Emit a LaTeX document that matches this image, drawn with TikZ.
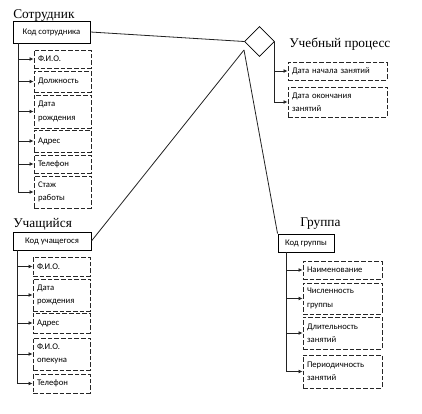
\documentclass[tikz,border=0pt]{standalone}
\usepackage{fontspec}
\setmainfont{Liberation Serif}
\newfontfamily\boxfont{Carlito}
\usetikzlibrary{positioning,shapes.geometric,arrows.meta}
\definecolor{linecol}{HTML}{222222}
\tikzset{
  keybox/.style  = {draw=black, line width=0.7pt, font=\boxfont\fontsize{6.5}{8}\selectfont,
                    inner sep=1pt, align=center},
  attrbox/.style = {draw=black!85, line width=0.7pt, dash pattern=on 3.5pt off 1.5pt,
                    font=\boxfont\fontsize{6.5}{10}\selectfont, align=left,
                    inner xsep=3pt, inner ysep=1pt},
  relbox/.style  = {draw=black, line width=0.5pt, diamond, inner sep=0pt,
                    minimum width=22.5pt, minimum height=22.5pt},
  flow/.style    = {-{Latex[length=3pt,width=3pt]}, draw=linecol, line width=0.6pt},
  link/.style    = {draw=linecol, line width=0.6pt},
  ttl/.style     = {font=\fontsize{10}{12}\selectfont, anchor=base west, inner sep=0pt},
}
\begin{document}
\begin{tikzpicture}[x=0.75pt, y=-0.75pt]
    \useasboundingbox (0,0) rectangle (422,414);

    % ---------------- employee
    \node[ttl] (ts) at (13,18) {Сотрудник};
    \node[keybox, minimum width=57.75pt, minimum height=16.5pt] (ks) at (51.5,32) {Код сотрудника};
    \node[attrbox, text width=36.75pt, minimum height=13.5pt]  (s1) at (62.5,59)    {Ф.И.О.};
    \node[attrbox, text width=36.75pt, minimum height=15.75pt] (s2) at (62.5,81.5)  {Должность};
    \node[attrbox, text width=36.75pt, minimum height=24.75pt] (s3) at (62.5,111.5) {Дата\\рождения};
    \node[attrbox, text width=36.75pt, minimum height=16.5pt]  (s4) at (62.5,141)   {Адрес};
    \node[attrbox, text width=36.75pt, minimum height=13.5pt]  (s5) at (62.5,164)   {Телефон};
    \node[attrbox, text width=36.75pt, minimum height=24pt]    (s6) at (62.5,192)   {Стаж\\работы};
    \foreach \b in {s1,s2,s3,s4,s5,s6} {\draw[flow] ([xshift=4.5pt]ks.south west) |- (\b.west);}

    % ---------------- study process
    \node[relbox] (dm) at (259.5,41.5) {};
    \coordinate (dj) at (244,50);
    \node[ttl] (tp) at (289,47) {Учебный процесс};
    \node[attrbox, text width=68.25pt, minimum height=13.5pt] (d1) at (337.5,71)  {Дата начала занятий};
    \node[attrbox, text width=68.25pt, minimum height=22.5pt] (d2) at (337.5,102) {Дата окончания\\занятий};
    \foreach \b in {d1,d2} {\draw[flow] (dm.east) |- (\b.west);}

    % ---------------- pupil
    \node[ttl] (tu) at (13,227) {Учащийся};
    \node[keybox, minimum width=58.5pt, minimum height=13.5pt] (ku) at (52,241) {Код учащегося};
    \node[attrbox, text width=36.75pt, minimum height=14.25pt] (u1) at (61.5,266.5) {Ф.И.О.};
    \node[attrbox, text width=36.75pt, minimum height=24pt]    (u2) at (61.5,295)   {Дата\\рождения};
    \node[attrbox, text width=36.75pt, minimum height=15pt]    (u3) at (61.5,323)   {Адрес};
    \node[attrbox, text width=36.75pt, minimum height=24pt]    (u4) at (61.5,354)   {Ф.И.О.\\опекуна};
    \node[attrbox, text width=36.75pt, minimum height=14.25pt] (u5) at (61.5,383.5) {Телефон};
    \foreach \b in {u1,u2,u3,u4,u5} {\draw[flow] ([xshift=3.75pt]ku.south west) |- (\b.west);}

    % ---------------- group
    \node[ttl] (tg) at (300,226) {Группа};
    \node[keybox, minimum width=42pt, minimum height=13.5pt] (kg) at (306,243) {Код группы};
    \node[attrbox, text width=53.25pt, minimum height=13.5pt]  (g1) at (342.5,270)   {Наименование};
    \node[attrbox, text width=53.25pt, minimum height=23.25pt] (g2) at (342.5,298.5) {Численность\\группы};
    \node[attrbox, text width=53.25pt, minimum height=24pt]    (g3) at (342.5,333)   {Длительность\\занятий};
    \node[attrbox, text width=53.25pt, minimum height=24.75pt] (g4) at (342.5,371.5) {Периодичность\\занятий};
    \foreach \b in {g1,g2,g3,g4} {\draw[flow] ([xshift=6.75pt]kg.south west) |- (\b.west);}

    % ---------------- links to the relation
    \draw[link] (ks.east) -- (dm.west);
    \draw[link] (dj) -- (ku.east);
    \draw[link] (dj) -- (kg.north west);
\end{tikzpicture}
\end{document}
